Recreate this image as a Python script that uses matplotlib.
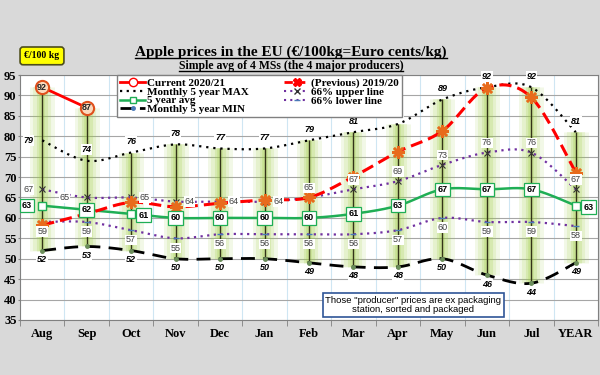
import numpy as np
import matplotlib.pyplot as plt
from matplotlib.lines import Line2D

months = ["Aug", "Sep", "Oct", "Nov", "Dec", "Jan", "Feb", "Mar", "Apr", "May", "Jun", "Jul", "YEAR"]
current = [92, 87]
previous = [58.2, 61, 63.8, 62.7, 63.6, 64.4, 65.0, 70.1, 76.2, 81.3, 91.8, 89.5, 71.1]
max5 = [79, 74, 76, 78, 77, 77, 79, 81, 83, 89, 92, 92, 81]
min5 = [52, 53, 52, 50, 50, 50, 49, 48, 48, 50, 46, 44, 49]
avg5 = [63, 62, 61, 60, 60, 60, 60, 61, 63, 67, 67, 67, 63]
upper = [67, 65, 65, 64, 64, 64, 65, 67, 69, 73, 76, 76, 67]
lower = [59, 59, 57, 55, 56, 56, 56, 56, 57, 60, 59, 59, 58]


def smooth(xs, ys, n=20):
    # excel style smoothed line (bezier through the points)
    P = np.column_stack([xs, ys]).astype(float)
    t = np.linspace(0, 1, n)[:, None]
    out = []
    for i in range(len(P) - 1):
        p0 = P[max(i - 1, 0)]
        p1 = P[i]
        p2 = P[i + 1]
        p3 = P[min(i + 2, len(P) - 1)]
        c1 = p1 + (p2 - p0) / 6
        c2 = p2 - (p3 - p1) / 6
        seg = (1 - t) ** 3 * p1 + 3 * (1 - t) ** 2 * t * c1 + 3 * (1 - t) * t ** 2 * c2 + t ** 3 * p2
        out.append(seg)
    s = np.vstack(out)
    return s[:, 0], s[:, 1]


x = np.arange(len(months))
xc = np.arange(len(current))

fig = plt.figure(figsize=(6, 3.75), dpi=100, facecolor="#d9d9d9")
ax = fig.add_axes([0.0333, 0.1467, 0.9634, 0.6533])
ax.set_facecolor("white")

# grid
ax.set_ylim(35, 95)
ax.set_xlim(-0.5, len(months) - 0.5)
ax.set_yticks(np.arange(35, 96, 5))
ax.set_xticks(x)
ax.set_xticks(np.arange(-0.5, len(months), 1), minor=True)
ax.grid(axis="y", color="#a6a6a6", lw=0.8)
ax.grid(axis="x", which="minor", color="#cfe6f3", lw=0.8)
ax.set_axisbelow(True)
ax.tick_params(axis="x", which="major", length=0, pad=6)
ax.tick_params(axis="x", which="minor", length=4, color="#808080")
ax.tick_params(axis="y", length=1.5, color="#808080", pad=1)
ax.set_xticklabels(months, family="Liberation Serif", fontweight="bold", fontsize=9)
for lab in ax.get_yticklabels():
    lab.set_family("Liberation Serif")
    lab.set_fontweight("bold")
    lab.set_fontsize(9)
for sp in ax.spines.values():
    sp.set_color("#808080")

# high-low lines with green glow
hi = list(max5)
for i, v in enumerate(current):
    hi[i] = max(hi[i], v)
for w, a in [(18, 0.12), (13, 0.15), (8, 0.2), (4, 0.25)]:
    ax.vlines(x, min5, hi, colors="#9ccc3c", lw=w, alpha=a, zorder=1)
ax.vlines(x, min5, hi, colors="#333318", lw=1, zorder=2)

# lines
sx, sy = smooth(x, max5)
ax.plot(sx, sy, color="black", ls=(0, (1, 2.2)), lw=1.6, zorder=3)
sx, sy = smooth(x, min5)
ax.plot(sx, sy, color="black", ls=(0, (5, 3)), lw=2, zorder=3)
ax.plot(x, min5, ls="none", marker="o", ms=2.5, color="#6b8e5a", zorder=4)
sx, sy = smooth(x, upper)
ax.plot(sx, sy, color="#7030a0", ls=(0, (1, 2)), lw=1.6, zorder=3)
ax.plot(x, upper, ls="none", marker="x", ms=5, mew=0.8, color="#333333", zorder=4)
sx, sy = smooth(x, lower)
ax.plot(sx, sy, color="#7030a0", ls=(0, (1, 2)), lw=1.6, zorder=3)
ax.plot(x, lower, ls="none", marker="_", ms=5, mew=1, color="#4a7ab8", zorder=4)
sx, sy = smooth(x, avg5)
ax.plot(sx, sy, color="#1fae55", lw=1.8, zorder=4)
ax.plot(x, avg5, ls="none", marker="s", ms=6, mfc="white", mec="#1fae55", mew=1, zorder=5)
sx, sy = smooth(x, previous)
ax.plot(sx, sy, color="#ff0000", ls=(0, (4, 2)), lw=2.2, zorder=5)
ax.plot(np.delete(x, 1), np.delete(np.array(previous), 1), ls="none", marker=(8, 2, 0), ms=9,
        mew=1.8, color="#e86b1c", zorder=6)
ax.plot(xc, current, color="#ff0000", lw=2, zorder=6)
ax.plot(xc, current, ls="none", marker="o", ms=9.5, mfc="#fbd9bd", mec="#e0501c", mew=1.5, zorder=7)

# data labels
def lab(xi, yi, txt, dx, dy, **kw):
    ax.annotate(txt, (xi, yi), xytext=(dx, dy), textcoords="offset points",
                ha="center", va="center", zorder=8, **kw)

for i, v in enumerate(current):
    lab(i, v, str(v), 0, 0, fontsize=6.5, fontweight="bold", color="#222222", family="Liberation Sans")

for i, v in enumerate(max5):
    dx, dy = (-10, 0) if i == 0 else (0, 8)
    lab(i, v, str(v), dx, dy, fontsize=6.5, fontweight="bold", fontstyle="italic",
        family="Liberation Sans", bbox=dict(fc="white", ec="none", pad=0.5))
for i, v in enumerate(min5):
    lab(i, v, str(v), 0, -6.5, fontsize=6.5, fontweight="bold", fontstyle="italic",
        family="Liberation Sans", bbox=dict(fc="white", ec="none", pad=0.5))

up_off = [(-10, 0), (-16, 0), (10, 0), (10, 0), (10, 0), (10, 0)]
for i, v in enumerate(upper):
    dx, dy = up_off[i] if i < len(up_off) else (0, 7)
    lab(i, v, str(v), dx, dy, fontsize=6.5, color="#404040", family="Liberation Sans",
        bbox=dict(fc="white", ec="none", pad=0.5))
for i, v in enumerate(lower):
    lab(i, v, str(v), 0, -7, fontsize=6.5, color="#404040", family="Liberation Sans",
        bbox=dict(fc="white", ec="none", pad=0.5))

avg_off = {0: (-11, 0), 2: (9, -1), 12: (9, -1)}
for i, v in enumerate(avg5):
    dx, dy = avg_off.get(i, (0, 0))
    lab(i, v, str(v), dx, dy, fontsize=6.5, fontweight="bold", family="Liberation Sans",
        bbox=dict(fc="white", ec="#1fae55", lw=0.9, boxstyle="square,pad=0.25"))

# legend
handles = [
    Line2D([], [], color="#ff0000", lw=2, marker="o", ms=6, mfc="white", mec="#ff0000"),
    Line2D([], [], color="black", ls=(0, (1, 2)), lw=1.6),
    Line2D([], [], color="#1fae55", lw=1.8, marker="s", ms=5, mfc="white", mec="#1fae55"),
    Line2D([], [], color="black", ls=(0, (5, 2)), lw=2, marker="o", ms=2.5, mfc="#4a7ab8", mec="#4a7ab8"),
    Line2D([], [], color="#ff0000", ls=(0, (3, 1.5)), lw=2, marker="X", ms=6, mfc="#ff0000", mec="#ff0000"),
    Line2D([], [], color="#7030a0", ls=(0, (1, 2)), lw=1.5, marker="x", ms=5, mec="#333333"),
    Line2D([], [], color="#7030a0", ls=(0, (1, 2)), lw=1.5, marker="_", ms=5, mec="#4a7ab8"),
]
labels = ["Current 2020/21", "Monthly 5 year MAX", "5 year avg", "Monthly 5 year MIN",
          "(Previous) 2019/20", "66% upper line", "66% lower line"]
leg = ax.legend(handles, labels, ncol=2, loc="upper left", bbox_to_anchor=(0.168, 1.0),
                prop={"family": "Liberation Serif", "weight": "bold", "size": 8},
                frameon=True, fancybox=False, edgecolor="#808080", framealpha=1,
                handlelength=2.2, handletextpad=0.2, labelspacing=-0.1, columnspacing=3.2,
                borderpad=0.3, borderaxespad=0)
leg.get_frame().set_linewidth(1)
leg.set_zorder(10)

# titles
t1 = fig.text(0.485, 0.86, "Apple prices in the EU (\u20ac/100kg=Euro cents/kg)", ha="center", va="center",
              family="Liberation Serif", fontweight="bold", fontsize=11)
t2 = fig.text(0.485, 0.824, "Simple avg of 4 MSs (the 4 major producers)", ha="center", va="center",
              family="Liberation Serif", fontweight="bold", fontsize=8.5)
fig.text(0.07, 0.851, "\u20ac/100 kg", ha="center", va="center", family="Liberation Serif",
         fontweight="bold", fontsize=7,
         bbox=dict(boxstyle="round,pad=0.45,rounding_size=0.3", fc="#ffff00", ec="#4d4d1a", lw=1.2))
fig.text(0.689, 0.187, "Those \"producer\" prices are ex packaging\nstation, sorted and packaged",
         ha="center", va="center", family="Liberation Sans", fontsize=6.8, linespacing=1.1,
         bbox=dict(boxstyle="square,pad=0.3", fc="white", ec="#2f5597", lw=1.2))

# underline the titles
fig.canvas.draw()
r = fig.canvas.get_renderer()
for t in (t1, t2):
    bb = t.get_window_extent(r)
    yy = (bb.y0 + 1) / fig.bbox.height
    fig.add_artist(Line2D([bb.x0 / fig.bbox.width, bb.x1 / fig.bbox.width], [yy, yy],
                          color="black", lw=1, transform=fig.transFigure))

fig.savefig("out.png", dpi=100, facecolor=fig.get_facecolor())
